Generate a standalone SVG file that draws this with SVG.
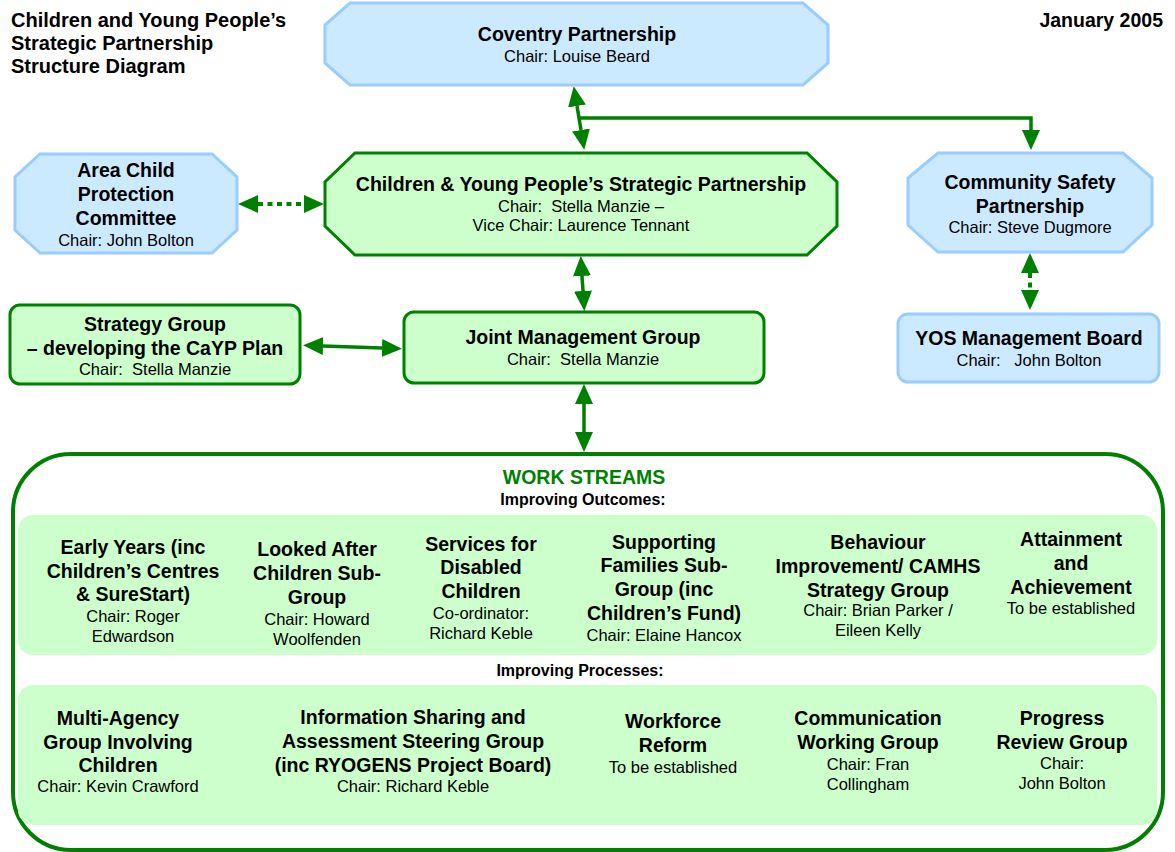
<svg xmlns="http://www.w3.org/2000/svg" width="1175" height="852" viewBox="0 0 1175 852">
  <style>
    text { font-family: "Liberation Sans", Arial, sans-serif; fill: #000; text-anchor: middle; white-space: pre; }
    .b { font-weight: bold; font-size: 19.5px; }
    .t { font-weight: bold; font-size: 20px; text-anchor: start; }
    .r { font-size: 16.5px; }
    .h { font-weight: bold; font-size: 16px; }
    .blue { fill: #cceaff; stroke: #99ccff; stroke-width: 3; }
    .green { fill: #ccffcc; stroke: #008000; stroke-width: 3; }
    .band { fill: #ccffcc; stroke: none; }
    .link { fill: none; stroke: #008000; stroke-width: 3.5; }
    .dot { fill: none; stroke: #008000; stroke-width: 4; stroke-dasharray: 5 4.5; }
  </style>
  <defs>
    <marker id="head" viewBox="0 0 20 18" refX="0" refY="9" markerWidth="20" markerHeight="18" markerUnits="userSpaceOnUse" orient="auto-start-reverse">
      <path d="M0,0 L20,9 L0,18 z" fill="#008000"/>
    </marker>
  </defs>

  <!-- heading -->
  <g id="title">
    <text class="t" x="11" y="27">Children and Young People’s</text>
    <text class="t" x="11" y="50">Strategic Partnership</text>
    <text class="t" x="11" y="73">Structure Diagram</text>
  </g>
  <g id="date">
    <text class="b" x="1163" y="27" style="text-anchor:end">January 2005</text>
  </g>

  <!-- connectors -->
  <g id="connectors">
    <line class="link" x1="577" y1="106" x2="581" y2="130" marker-start="url(#head)" marker-end="url(#head)"/>
    <polyline class="link" points="578,118 1031,118 1031,130" marker-end="url(#head)"/>
    <line class="dot" x1="258" y1="204" x2="304" y2="204" marker-start="url(#head)" marker-end="url(#head)"/>
    <line class="dot" x1="1030" y1="273" x2="1030" y2="290" marker-start="url(#head)" marker-end="url(#head)"/>
    <line class="link" x1="582" y1="276" x2="583" y2="291" marker-start="url(#head)" marker-end="url(#head)"/>
    <line class="link" x1="323" y1="346" x2="382" y2="348" marker-start="url(#head)" marker-end="url(#head)"/>
    <line class="link" x1="584" y1="404" x2="584" y2="432" marker-start="url(#head)" marker-end="url(#head)"/>
  </g>

  <g id="coventry">
    <polygon class="blue" points="350,3 803,3 828,25 828,63 803,85 350,85 325,63 325,25"/>
    <text class="b" x="577" y="41">Coventry Partnership</text>
    <text class="r" x="577" y="62">Chair: Louise Beard</text>
  </g>

  <g id="acpc">
    <polygon class="blue" points="40,154 212,154 237,177 237,230 212,253 40,253 15,230 15,177"/>
    <text class="b" x="126" y="177">Area Child</text>
    <text class="b" x="126" y="201">Protection</text>
    <text class="b" x="126" y="225">Committee</text>
    <text class="r" x="126" y="246">Chair: John Bolton</text>
  </g>

  <g id="cypsp">
    <polygon class="green" points="355,153 807,153 837,182 837,226 807,255 355,255 325,226 325,182"/>
    <text class="b" x="581" y="191">Children &amp; Young People’s Strategic Partnership</text>
    <text class="r" x="581" y="212">Chair:  Stella Manzie –</text>
    <text class="r" x="581" y="231">Vice Chair: Laurence Tennant</text>
  </g>

  <g id="csp">
    <polygon class="blue" points="938,153 1123,153 1152,178 1152,225 1123,252 938,252 908,225 908,178"/>
    <text class="b" x="1030" y="189">Community Safety</text>
    <text class="b" x="1030" y="213">Partnership</text>
    <text class="r" x="1030" y="233">Chair: Steve Dugmore</text>
  </g>

  <g id="yos">
    <rect class="blue" x="898" y="314" width="261" height="68" rx="10"/>
    <text class="b" x="1029" y="345">YOS Management Board</text>
    <text class="r" x="1029" y="366">Chair:   John Bolton</text>
  </g>

  <g id="strategy">
    <rect class="green" x="10" y="305" width="290" height="79" rx="10"/>
    <text class="b" x="155" y="331">Strategy Group</text>
    <text class="b" x="155" y="355">– developing the CaYP Plan</text>
    <text class="r" x="155" y="375">Chair:  Stella Manzie</text>
  </g>

  <g id="jmg">
    <rect class="green" x="404" y="312" width="360" height="71" rx="10"/>
    <text class="b" x="583" y="344">Joint Management Group</text>
    <text class="r" x="583" y="365">Chair:  Stella Manzie</text>
  </g>

  <g id="workstreams">
    <rect x="13" y="454" width="1150" height="396" rx="58" fill="#fff" stroke="#008000" stroke-width="4"/>
    <text x="584" y="484" style="font-weight:bold;font-size:19.5px;fill:#008000">WORK STREAMS</text>
    <text class="h" x="583" y="505">Improving Outcomes:</text>
    <rect class="band" x="18" y="515" width="1139" height="140" rx="15"/>
    <text class="h" x="580" y="676">Improving Processes:</text>
    <rect class="band" x="18" y="685" width="1139" height="140" rx="15"/>
  </g>

  <g id="early-years">
    <text class="b" x="133" y="554">Early Years (inc</text>
    <text class="b" x="133" y="578">Children’s Centres</text>
    <text class="b" x="133" y="601">&amp; SureStart)</text>
    <text class="r" x="133" y="622">Chair: Roger</text>
    <text class="r" x="133" y="642">Edwardson</text>
  </g>
  <g id="looked-after">
    <text class="b" x="317" y="556">Looked After</text>
    <text class="b" x="317" y="580">Children Sub-</text>
    <text class="b" x="317" y="604">Group</text>
    <text class="r" x="317" y="625">Chair: Howard</text>
    <text class="r" x="317" y="645">Woolfenden</text>
  </g>
  <g id="disabled">
    <text class="b" x="481" y="551">Services for</text>
    <text class="b" x="481" y="574">Disabled</text>
    <text class="b" x="481" y="598">Children</text>
    <text class="r" x="481" y="619">Co-ordinator:</text>
    <text class="r" x="481" y="639">Richard Keble</text>
  </g>
  <g id="families">
    <text class="b" x="664" y="549">Supporting</text>
    <text class="b" x="664" y="572">Families Sub-</text>
    <text class="b" x="664" y="596">Group (inc</text>
    <text class="b" x="664" y="620">Children’s Fund)</text>
    <text class="r" x="664" y="641">Chair: Elaine Hancox</text>
  </g>
  <g id="behaviour">
    <text class="b" x="878" y="549">Behaviour</text>
    <text class="b" x="878" y="573">Improvement/ CAMHS</text>
    <text class="b" x="878" y="597">Strategy Group</text>
    <text class="r" x="878" y="616">Chair: Brian Parker /</text>
    <text class="r" x="878" y="636">Eileen Kelly</text>
  </g>
  <g id="attainment">
    <text class="b" x="1071" y="546">Attainment</text>
    <text class="b" x="1071" y="570">and</text>
    <text class="b" x="1071" y="594">Achievement</text>
    <text class="r" x="1071" y="614">To be established</text>
  </g>

  <g id="multi-agency">
    <text class="b" x="118" y="725">Multi-Agency</text>
    <text class="b" x="118" y="749">Group Involving</text>
    <text class="b" x="118" y="772">Children</text>
    <text class="r" x="118" y="792">Chair: Kevin Crawford</text>
  </g>
  <g id="info-sharing">
    <text class="b" x="413" y="724">Information Sharing and</text>
    <text class="b" x="413" y="748">Assessment Steering Group</text>
    <text class="b" x="413" y="772">(inc RYOGENS Project Board)</text>
    <text class="r" x="413" y="792">Chair: Richard Keble</text>
  </g>
  <g id="workforce">
    <text class="b" x="673" y="728">Workforce</text>
    <text class="b" x="673" y="752">Reform</text>
    <text class="r" x="673" y="773">To be established</text>
  </g>
  <g id="communication">
    <text class="b" x="868" y="725">Communication</text>
    <text class="b" x="868" y="749">Working Group</text>
    <text class="r" x="868" y="770">Chair: Fran</text>
    <text class="r" x="868" y="790">Collingham</text>
  </g>
  <g id="progress">
    <text class="b" x="1062" y="725">Progress</text>
    <text class="b" x="1062" y="749">Review Group</text>
    <text class="r" x="1062" y="769">Chair:</text>
    <text class="r" x="1062" y="789">John Bolton</text>
  </g>
</svg>
